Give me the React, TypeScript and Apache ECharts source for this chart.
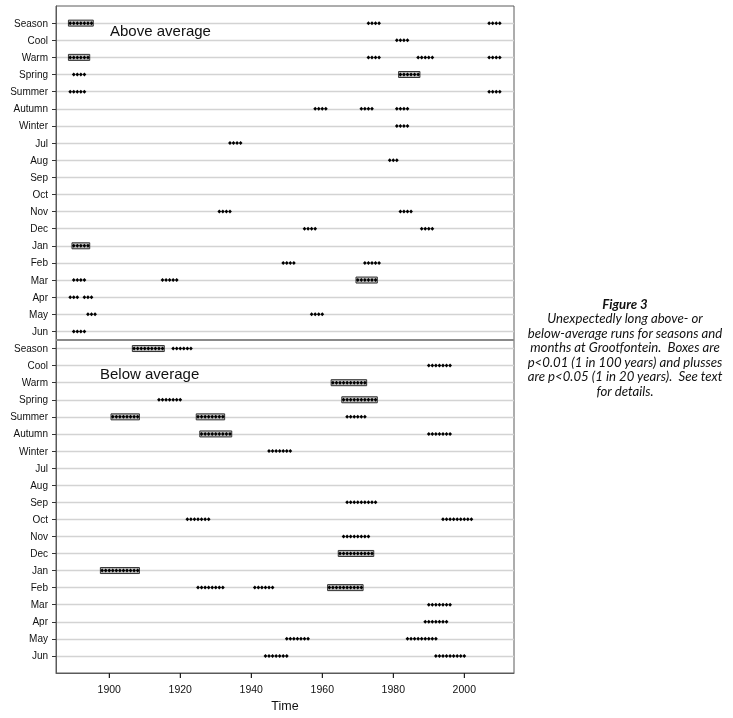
import React, { useEffect, useRef } from 'react';
import * as echarts from 'echarts';

const ROWS = ['Season', 'Cool', 'Warm', 'Spring', 'Summer', 'Autumn', 'Winter', 'Jul', 'Aug', 'Sep', 'Oct', 'Nov', 'Dec', 'Jan', 'Feb', 'Mar', 'Apr', 'May', 'Jun'];
const X_TICKS = [1900, 1920, 1940, 1960, 1980, 2000];
const X_MIN = 1885;
const X_MAX = 2014;

// runs: [row, first year, last year]  (plusses: p<0.05)
const ABOVE_PLUS: [string, number, number][] = [
  ['Season', 1973, 1976], ['Season', 2007, 2010],
  ['Cool', 1981, 1984],
  ['Warm', 1973, 1976], ['Warm', 1987, 1991], ['Warm', 2007, 2010],
  ['Spring', 1890, 1893],
  ['Summer', 1889, 1893], ['Summer', 2007, 2010],
  ['Autumn', 1958, 1961], ['Autumn', 1971, 1974], ['Autumn', 1981, 1984],
  ['Winter', 1981, 1984],
  ['Jul', 1934, 1937],
  ['Aug', 1979, 1981],
  ['Nov', 1931, 1934], ['Nov', 1982, 1985],
  ['Dec', 1955, 1958], ['Dec', 1988, 1991],
  ['Feb', 1949, 1952], ['Feb', 1972, 1976],
  ['Mar', 1890, 1893], ['Mar', 1915, 1919],
  ['Apr', 1889, 1891], ['Apr', 1893, 1895],
  ['May', 1894, 1896], ['May', 1957, 1960],
  ['Jun', 1890, 1893],
];
// boxed runs: p<0.01
const ABOVE_BOX: [string, number, number][] = [
  ['Season', 1889, 1895],
  ['Warm', 1889, 1894],
  ['Spring', 1982, 1987],
  ['Jan', 1890, 1894],
  ['Mar', 1970, 1975],
];
const BELOW_PLUS: [string, number, number][] = [
  ['Season', 1918, 1923],
  ['Cool', 1990, 1996],
  ['Spring', 1914, 1920],
  ['Summer', 1967, 1972],
  ['Autumn', 1990, 1996],
  ['Winter', 1945, 1951],
  ['Sep', 1967, 1975],
  ['Oct', 1922, 1928], ['Oct', 1994, 2002],
  ['Nov', 1966, 1973],
  ['Feb', 1925, 1932], ['Feb', 1941, 1946],
  ['Mar', 1990, 1996],
  ['Apr', 1989, 1995],
  ['May', 1950, 1956], ['May', 1984, 1992],
  ['Jun', 1944, 1950], ['Jun', 1992, 2000],
];
const BELOW_BOX: [string, number, number][] = [
  ['Season', 1907, 1915],
  ['Warm', 1963, 1972],
  ['Spring', 1966, 1975],
  ['Summer', 1901, 1908], ['Summer', 1925, 1932],
  ['Autumn', 1926, 1934],
  ['Dec', 1965, 1974],
  ['Jan', 1898, 1908],
  ['Feb', 1962, 1971],
];

const FONT = '"Liberation Sans", Arial, sans-serif';
const CAPTION_FONT = 'Lato, "Open Sans", sans-serif';
const ROW_IDX = ROWS.map((_, i) => i);
const BORDER = '#5a5a5a';

function renderRun(_params: any, api: any) {
  const s = api.value(0);
  const e = api.value(1);
  const r = api.value(2);
  const boxed = api.value(3);
  const children: any[] = [];
  if (boxed) {
    const p0 = api.coord([s - 0.5, r]);
    const p1 = api.coord([e + 0.5, r]);
    children.push({
      type: 'rect',
      shape: { x: p0[0], y: p0[1] - 3, width: p1[0] - p0[0], height: 6 },
      style: { fill: '#bdbdbd', stroke: '#333', lineWidth: 1 },
    });
  }
  for (let yr = s; yr <= e; yr++) {
    const p = api.coord([yr, r]);
    children.push({
      type: 'polygon',
      shape: { points: [[p[0] - 1.9, p[1]], [p[0], p[1] - 2], [p[0] + 1.9, p[1]], [p[0], p[1] + 2]] },
      style: { fill: '#000' },
    });
  }
  return { type: 'group', children };
}

// tick mark below the bottom axis at a labelled year
function renderTick(_params: any, api: any) {
  const p = api.coord([api.value(0), -1]);
  return {
    type: 'line',
    shape: { x1: p[0], y1: p[1], x2: p[0], y2: p[1] + 5 },
    style: { stroke: '#222', lineWidth: 1 },
  };
}

function toData(plus: [string, number, number][], box: [string, number, number][], flip: boolean) {
  const rowVal = (name: string) => {
    const i = ROWS.indexOf(name);
    return flip ? 18 - i : i;
  };
  return [
    ...box.map(([n, s, e]) => [s, e, rowVal(n), 1]),
    ...plus.map(([n, s, e]) => [s, e, rowVal(n), 0]),
  ];
}

export default function App() {
  const ref = useRef<HTMLDivElement>(null);
  useEffect(() => {
    if (!ref.current) return;
    const chart = echarts.init(ref.current, undefined, { renderer: 'svg' });
    const gridCommon = { left: 56, right: 219, show: true, borderColor: BORDER, borderWidth: 1 };
    const yCommon = (flip: boolean, gi: number) => ({
      gridIndex: gi,
      type: 'value',
      inverse: !flip,
      min: -1,
      max: 18.5,
      interval: 1,
      axisLine: { show: true, onZero: false, lineStyle: { color: BORDER, width: 1 } },
      axisTick: { show: true, customValues: ROW_IDX, length: 4, lineStyle: { color: '#333' } },
      axisLabel: {
        customValues: ROW_IDX,
        formatter: (v: number) => {
          const i = Math.round(v);
          return (flip ? ROWS[18 - i] : ROWS[i]) ?? '';
        },
        margin: 8,
        fontSize: 10,
        color: '#111',
        fontFamily: FONT,
      },
      splitLine: { show: true, lineStyle: { color: '#d3d3d3', width: 1.3 } },
    });
    const option: any = {
      animation: false,
      grid: [
        { ...gridCommon, top: 6, height: 334 },
        { ...gridCommon, top: 340, height: 333 },
      ],
      xAxis: [
        {
          gridIndex: 0, type: 'value', min: X_MIN, max: X_MAX,
          axisLine: { show: false, onZero: false }, axisTick: { show: false }, axisLabel: { show: false }, splitLine: { show: false },
        },
        {
          gridIndex: 1, type: 'value', min: X_MIN, max: X_MAX, position: 'bottom',
          axisLine: { show: true, onZero: false, lineStyle: { color: BORDER, width: 1 } },
          axisTick: { show: true, customValues: X_TICKS, length: 5, lineStyle: { color: '#222', width: 1 } },
          axisLabel: {
            customValues: X_TICKS, fontSize: 10.5, color: '#111', margin: 10, fontFamily: FONT,
            formatter: (v: number) => String(v),
          },
          splitLine: { show: false },
          name: 'Time', nameLocation: 'middle', nameGap: 26,
          nameTextStyle: { fontSize: 12.5, color: '#111', fontFamily: FONT },
        },
      ],
      yAxis: [yCommon(false, 0), yCommon(true, 1)],
      series: [
        {
          type: 'custom', xAxisIndex: 0, yAxisIndex: 0, renderItem: renderRun,
          encode: { x: [0, 1], y: 2 }, data: toData(ABOVE_PLUS, ABOVE_BOX, false),
        },
        {
          type: 'custom', xAxisIndex: 1, yAxisIndex: 1, renderItem: renderRun,
          encode: { x: [0, 1], y: 2 }, data: toData(BELOW_PLUS, BELOW_BOX, true),
        },
        {
          type: 'custom', xAxisIndex: 1, yAxisIndex: 1, renderItem: renderTick, clip: false, silent: true,
          encode: { x: 0 }, data: X_TICKS.map((v) => [v]), z: 10,
        },
      ],
      graphic: [
        { type: 'line', shape: { x1: 56, y1: 340, x2: 514, y2: 340 }, style: { stroke: '#8a8a8a', lineWidth: 2 }, z: 100 },
        { type: 'text', left: 110, top: 23, style: { text: 'Above average', font: `15px ${FONT}`, fill: '#111' }, z: 100 },
        { type: 'text', left: 100, top: 366, style: { text: 'Below average', font: `15px ${FONT}`, fill: '#111' }, z: 100 },
        {
          type: 'text', x: 625, y: 297, z: 100,
          style: { text: 'Figure 3', font: `italic bold 13.2px ${CAPTION_FONT}`, fill: '#111', align: 'center' },
        },
        {
          type: 'text', x: 625, y: 311, z: 100,
          style: {
            text: 'Unexpectedly long above- or\nbelow-average runs for seasons and\nmonths at Grootfontein.  Boxes are\np<0.01 (1 in 100 years) and plusses\nare p<0.05 (1 in 20 years).  See text\nfor details.',
            font: `italic 13.2px ${CAPTION_FONT}`,
            lineHeight: 14.5,
            fill: '#111',
            align: 'center',
          },
        },
      ],
    };
    chart.setOption(option);
    return () => chart.dispose();
  }, []);
  return <div ref={ref} style={{ position: 'fixed', left: 0, top: 0, width: 733, height: 718 }} />;
}
